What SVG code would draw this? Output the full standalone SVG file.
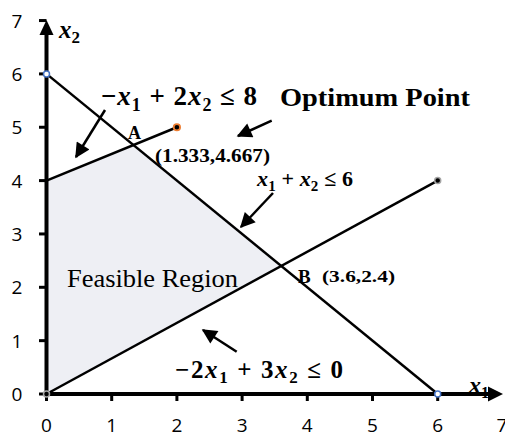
<svg xmlns="http://www.w3.org/2000/svg" width="505" height="437" viewBox="0 0 505 437">
<style>
.tick{font-family:"Open Sans","Liberation Sans",sans-serif;font-size:19px;fill:#000}
.lbl{font-family:"Liberation Serif","Times New Roman",serif;font-weight:bold;fill:#000}
.math{font-family:"Liberation Serif","Times New Roman",serif;font-weight:bold;fill:#000}
.it{font-style:italic}
.cline{stroke:#000;stroke-width:2.5;fill:none}
.axis{stroke:#000;stroke-width:4;fill:none}
.tk{stroke:#000;stroke-width:3}
.arr{stroke:#000;stroke-width:2.5;fill:none;marker-end:url(#ah)}
</style>
<defs>
<marker id="ah" viewBox="0 0 10 10" refX="9" refY="5" markerWidth="7" markerHeight="6" markerUnits="strokeWidth" orient="auto">
<path d="M0,0 L10,5 L0,10 z" fill="#000"/>
</marker>
</defs>
<rect width="505" height="437" fill="#fff"/>
<g id="feasible-region">
<polygon points="46.5,394 46.5,180.6 133.4,145.0 281.2,266.0" fill="#eeeff4"/>
<text x="67" y="286.5" style="font-family:'Liberation Serif','Times New Roman',serif;font-size:26px" textLength="171" lengthAdjust="spacingAndGlyphs">Feasible Region</text>
</g>
<g id="x1-label">
<text class="math" x="469" y="393" style="font-size:24px"><tspan class="it">x</tspan><tspan dy="5" style="font-size:16px">1</tspan></text>
</g>
<g id="connectors">
<line id="c1" class="cline" x1="46.5" y1="73.9" x2="437.7" y2="394"/>
<line id="c2" class="cline" x1="46.5" y1="180.6" x2="176.9" y2="127.25"/>
<line id="c3" class="cline" x1="46.5" y1="394" x2="437.7" y2="180.6"/>
<line class="arr" x1="105" y1="110" x2="76" y2="157"/>
<line class="arr" x1="271.7" y1="120.7" x2="238" y2="136"/>
<line class="arr" x1="273" y1="193" x2="241" y2="227"/>
<line class="arr" x1="236.7" y1="351.7" x2="203" y2="330"/>
</g>
<g id="axes">
<line class="axis" x1="46.5" y1="396" x2="46.5" y2="32"/>
<path d="M46.5,20 L53.5,35 L39.5,35 z" fill="#000"/>
<line class="axis" x1="44.5" y1="394" x2="490" y2="394"/>
<path d="M503,394 L488,386.5 L488,401.5 z" fill="#000"/>
<g class="tk">
<line x1="111.7" y1="394" x2="111.7" y2="401"/>
<line x1="176.9" y1="394" x2="176.9" y2="401"/>
<line x1="242.1" y1="394" x2="242.1" y2="401"/>
<line x1="307.3" y1="394" x2="307.3" y2="401"/>
<line x1="372.5" y1="394" x2="372.5" y2="401"/>
<line x1="437.7" y1="394" x2="437.7" y2="401"/>
<line x1="46.5" y1="394" x2="46.5" y2="401"/>
<line x1="39" y1="340.65" x2="46.5" y2="340.65"/>
<line x1="39" y1="287.3" x2="46.5" y2="287.3"/>
<line x1="39" y1="233.95" x2="46.5" y2="233.95"/>
<line x1="39" y1="180.6" x2="46.5" y2="180.6"/>
<line x1="39" y1="127.25" x2="46.5" y2="127.25"/>
<line x1="39" y1="73.9" x2="46.5" y2="73.9"/>
<line x1="39" y1="20.55" x2="46.5" y2="20.55"/>
<line x1="39" y1="394" x2="46.5" y2="394"/>
</g>
<g class="tick" text-anchor="middle">
<text x="46.5" y="432">0</text>
<text x="111.7" y="432">1</text>
<text x="176.9" y="432">2</text>
<text x="242.1" y="432">3</text>
<text x="307.3" y="432">4</text>
<text x="372.5" y="432">5</text>
<text x="437.7" y="432">6</text>
<text x="502" y="432">7</text>
</g>
<g class="tick" text-anchor="middle">
<text x="17" y="401">0</text>
<text x="17" y="347.5">1</text>
<text x="17" y="294.3">2</text>
<text x="17" y="241">3</text>
<text x="17" y="187.5">4</text>
<text x="17" y="134.3">5</text>
<text x="17" y="80.9">6</text>
<text x="17" y="27.5">7</text>
</g>
<text class="math" x="59" y="38" style="font-size:25px"><tspan class="it">x</tspan><tspan dy="5" style="font-size:17px">2</tspan></text>
</g>
<g id="points">
<circle cx="46.5" cy="73.9" r="3" fill="#fff" stroke="#4472c4" stroke-width="1.5"/>
<circle cx="437.7" cy="394" r="3" fill="#fff" stroke="#4472c4" stroke-width="1.5"/>
<circle cx="176.9" cy="127.25" r="3.2" fill="#000" stroke="#ed7d31" stroke-width="1.8"/>
<circle cx="437.7" cy="180.6" r="3" fill="#000" stroke="#a5a5a5" stroke-width="1.5"/>
<circle cx="46.5" cy="394" r="3" fill="none" stroke="#a5a5a5" stroke-width="1.5"/>
</g>
<g id="label-c2">
<text class="math" x="101" y="105" style="font-size:27px" textLength="156" lengthAdjust="spacing">−<tspan class="it">x</tspan><tspan dy="6" style="font-size:18px">1</tspan><tspan dy="-6"> + 2</tspan><tspan class="it">x</tspan><tspan dy="6" style="font-size:18px">2</tspan><tspan dy="-6"> ≤ 8</tspan></text>
</g>
<g id="label-optimum">
<text class="lbl" x="280" y="106" style="font-size:26px" textLength="190" lengthAdjust="spacingAndGlyphs">Optimum Point</text>
</g>
<g id="point-A">
<text class="lbl" x="128" y="139" style="font-size:18px">A</text>
<text class="lbl" x="155" y="162" style="font-size:18px" textLength="115" lengthAdjust="spacingAndGlyphs">(1.333,4.667)</text>
</g>
<g id="label-c1">
<text class="math" x="257" y="186" style="font-size:22px" textLength="96" lengthAdjust="spacing"><tspan class="it">x</tspan><tspan dy="5" style="font-size:15px">1</tspan><tspan dy="-5"> + </tspan><tspan class="it">x</tspan><tspan dy="5" style="font-size:15px">2</tspan><tspan dy="-5"> ≤ 6</tspan></text>
</g>
<g id="point-B">
<text class="lbl" x="298" y="283" style="font-size:19px">B</text>
<text class="lbl" x="322" y="282" style="font-size:16px" textLength="73" lengthAdjust="spacingAndGlyphs">(3.6,2.4)</text>
</g>
<g id="label-c3">
<text class="math" x="175" y="378" style="font-size:25px" textLength="168" lengthAdjust="spacing">−2<tspan class="it">x</tspan><tspan dy="5" style="font-size:17px">1</tspan><tspan dy="-5"> + 3</tspan><tspan class="it">x</tspan><tspan dy="5" style="font-size:17px">2</tspan><tspan dy="-5"> ≤ 0</tspan></text>
</g>
</svg>
